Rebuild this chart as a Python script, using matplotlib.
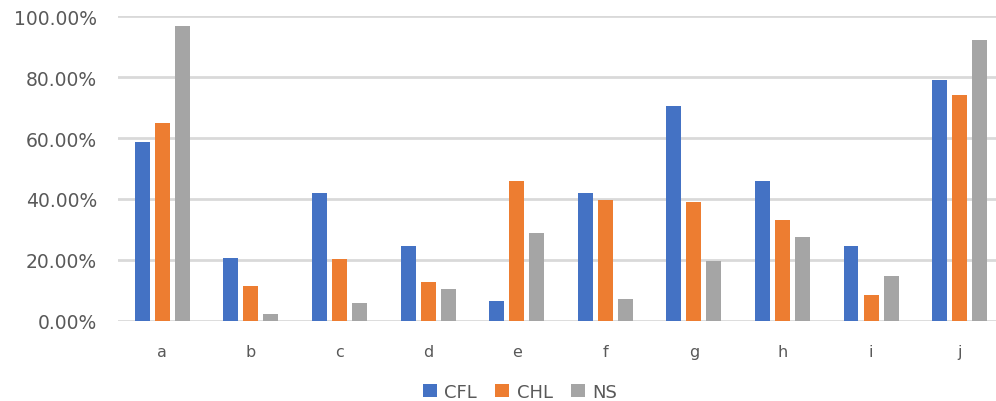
import numpy as np
import matplotlib.pyplot as plt
from matplotlib.ticker import PercentFormatter

categories = ["a", "b", "c", "d", "e", "f", "g", "h", "i", "j"]
cfl = [58.8, 20.5, 41.8, 24.6, 6.4, 41.8, 70.6, 46.0, 24.6, 78.9]
chl = [65.0, 11.3, 20.4, 12.7, 46.0, 39.6, 38.9, 33.1, 8.5, 74.0]
ns = [96.7, 2.3, 5.7, 10.5, 28.9, 7.1, 19.7, 27.5, 14.6, 92.3]

series = [("CFL", cfl, "#4472C4"), ("CHL", chl, "#ED7D31"), ("NS", ns, "#A5A5A5")]

fig = plt.figure(figsize=(9.96, 4.02), dpi=100)
ax = fig.add_axes([118/996, 0.2, 1 - 118/996, 0.757])

x = np.arange(len(categories))
for i, (name, vals, col) in enumerate(series):
    ax.bar(x + (i - 1) * 0.226, np.array(vals) / 100, width=0.168, color=col, label=name, zorder=3)

ax.set_ylim(0, 1.0)
ax.set_xlim(-0.5, 9.41)
ax.set_yticks(np.arange(0, 1.01, 0.2))
ax.yaxis.set_major_formatter(PercentFormatter(1.0, decimals=2))
ax.set_xticks(x)
ax.set_xticklabels(categories)
ax.grid(axis="y", color="#D9D9D9", linewidth=2, zorder=0)
for s in ax.spines.values():
    s.set_visible(False)
ax.tick_params(axis="y", length=0, pad=15, labelsize=13.5, labelcolor="#595959")
ax.tick_params(axis="x", length=0, pad=17, labelsize=11.5, labelcolor="#595959")

fig.legend(loc="lower center", bbox_to_anchor=(0.522, -0.04), ncol=3, frameon=False,
           fontsize=13, handlelength=0.8, handleheight=0.8, handletextpad=0.4,
           columnspacing=1.0, labelcolor="#595959")

fig.savefig("out.png", dpi=100)
